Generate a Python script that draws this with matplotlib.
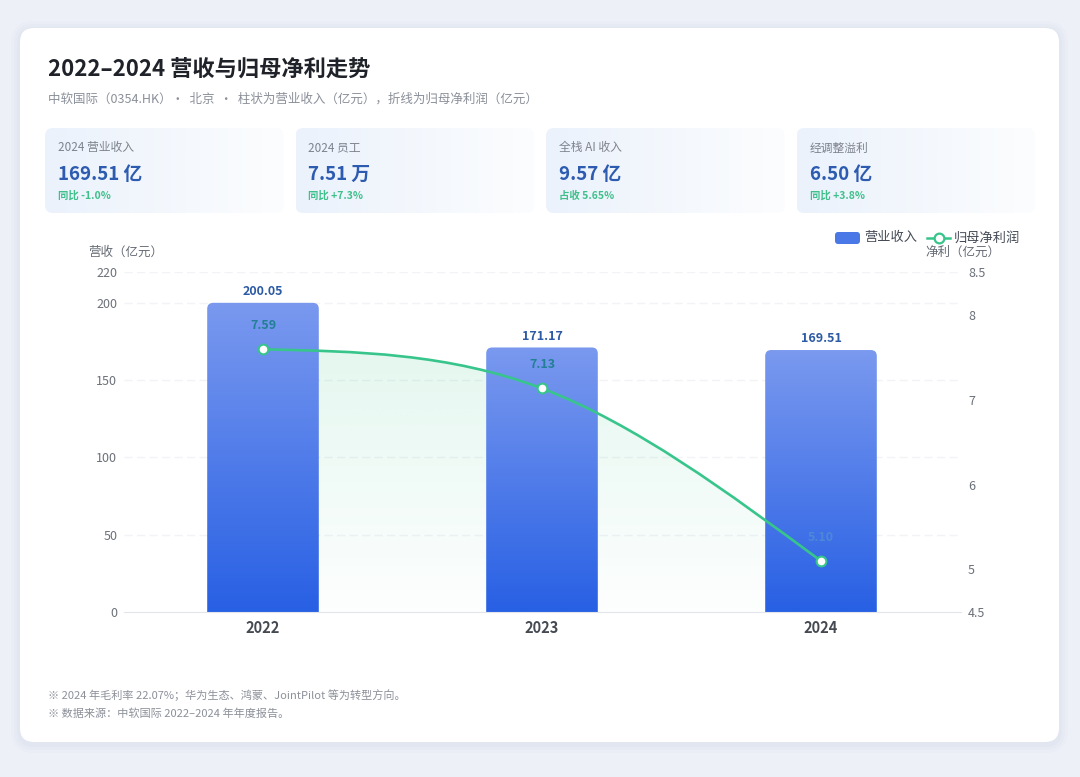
import numpy as np
import matplotlib
matplotlib.use("Agg")
import matplotlib.pyplot as plt
from matplotlib.patches import FancyBboxPatch, PathPatch
from matplotlib.path import Path
from matplotlib.colors import to_rgb
from matplotlib.lines import Line2D

plt.rcParams['font.family'] = ['Noto Sans CJK SC', 'DejaVu Sans']

# ---- data ----
years = ['2022', '2023', '2024']
revenue = [200.05, 171.17, 169.51]          # 营业收入（亿元）
net_profit = [7.59, 7.13, 5.10]             # 归母净利润（亿元）

kpi_labels = ['2024 营业收入', '2024 员工', '全栈 AI 收入', '经调整溢利']
kpi_values = ['169.51 亿', '7.51 万', '9.57 亿', '6.50 亿']
kpi_notes = ['同比 -1.0%', '同比 +7.3%', '占收 5.65%', '同比 +3.8%']

left_ticks = [0, 50, 100, 150, 200, 220]
right_ticks = [4.5, 5, 6, 7, 8, 8.5]

title = '2022–2024 营收与归母净利走势'
subtitle = '中软国际（0354.HK）·  北京  ·  柱状为营业收入（亿元），折线为归母净利润（亿元）'
notes = ['※ 2024 年毛利率 22.07%；华为生态、鸿蒙、JointPilot 等为转型方向。',
         '※ 数据来源：中软国际 2022–2024 年年度报告。']

GREEN = '#38c58b'
BAR_TOP = '#7a99ef'
BAR_BOT = '#2860e4'

W, H = 1080, 777
fig = plt.figure(figsize=(W / 100, H / 100), dpi=100)
fig.patch.set_facecolor('#edf0f7')

# background axes in pixel coordinates
bg = fig.add_axes([0, 0, 1, 1])
bg.set_xlim(0, W)
bg.set_ylim(H, 0)
bg.axis('off')
bg.set_zorder(0)

for i, a in enumerate([0.05, 0.04, 0.03]):
    d = 3 + i * 3
    bg.add_patch(FancyBboxPatch((20 - d, 30 - d), 1039 + 2 * d, 714 + 2 * d,
                                boxstyle='round,pad=0,rounding_size=%d' % (14 + d),
                                fc='#9aa6c8', ec='none', alpha=a))
bg.add_patch(FancyBboxPatch((20, 28), 1039, 714, boxstyle='round,pad=0,rounding_size=14',
                            fc='white', ec='none'))

bg.text(48, 70, title, fontsize=16, fontweight='bold', color='#1f2329', va='center')
bg.text(48, 99, subtitle, fontsize=9, color='#8a8f99', va='center')

# KPI cards
card_w, card_gap = 238.5, 12
c0, c1 = np.array(to_rgb('#ebf2fc')), np.array(to_rgb('#fcfdfe'))
grad = np.linspace(0, 1, 256)[None, :, None]
card_img = c0 + (c1 - c0) * grad
for i in range(len(kpi_labels)):
    x0 = 45 + i * (card_w + card_gap)
    card = FancyBboxPatch((x0, 128), card_w, 85, boxstyle='round,pad=0,rounding_size=8',
                          fc='none', ec='none')
    bg.add_patch(card)
    im = bg.imshow(card_img, extent=(x0, x0 + card_w, 213, 128), aspect='auto', zorder=1)
    im.set_clip_path(card)
    bg.text(x0 + 13, 148, kpi_labels[i], fontsize=8.5, color='#7d828c', va='center', zorder=2)
    bg.text(x0 + 13, 174, kpi_values[i], fontsize=13.5, fontweight='bold', color='#2d5bb0',
            va='center', zorder=2)
    bg.text(x0 + 13, 196, kpi_notes[i], fontsize=7.5, fontweight='bold', color='#3fc08a',
            va='center', zorder=2)

# legend
bg.add_patch(FancyBboxPatch((835, 232), 25, 12, boxstyle='round,pad=0,rounding_size=3',
                            fc='#4a78e6', ec='none'))
bg.text(864, 238, '营业收入', fontsize=9.5, color='#444a55', va='center')
bg.add_line(Line2D([927, 950], [238, 238], color=GREEN, lw=1.8))
bg.add_line(Line2D([938.5], [238], marker='o', ms=7, mfc='white', mec=GREEN, mew=1.6))
bg.text(954, 238, '归母净利润', fontsize=9.5, color='#444a55', va='center')

bg.text(88, 252, '营收（亿元）', fontsize=9, color='#666b75', va='center')
bg.text(925, 252, '净利（亿元）', fontsize=9, color='#666b75', va='center')

for k, line in enumerate(notes):
    bg.text(48, 695 + k * 19, line, fontsize=8, color='#8c9099', va='center')

# ---- main chart ----
ax = fig.add_axes([123.5 / W, (H - 612) / H, 837 / W, 340 / H])
ax.set_zorder(1)
ax.patch.set_visible(False)
ax2 = ax.twinx()
ax2.set_zorder(2)
ax2.patch.set_visible(False)

x = np.arange(len(years))
ax.set_xlim(-0.5, len(years) - 0.5)
ax.set_ylim(0, 220)
ax2.set_ylim(4.5, 8.5)
ax.set_yticks(left_ticks)
ax2.set_yticks(right_ticks)
ax2.set_yticklabels([('%g' % t) for t in right_ticks])
ax.set_xticks(x)
ax.set_xticklabels(years, fontsize=10.5, fontweight='bold', color='#454a52')

for a in (ax, ax2):
    for s in a.spines.values():
        s.set_visible(False)
    a.tick_params(length=0, labelsize=9, labelcolor='#6b7079')
ax.spines['bottom'].set_visible(True)
ax.spines['bottom'].set_color('#e2e5eb')
ax.tick_params(axis='y', pad=4.5)
ax.tick_params(axis='x', pad=5.5, labelsize=10.5, labelcolor='#454a52')
ax2.tick_params(axis='y', pad=5.5)
for t in left_ticks[1:]:
    ax.axhline(t, color='#f1f3f6', lw=1, dashes=(6, 3), zorder=0)

# smooth profit curve (natural cubic spline through the points, drawn as bezier)
pts = np.array(net_profit)
n = len(pts)
A = np.zeros((n, n))
b = np.zeros(n)
sec = np.diff(pts)
A[0, 0], A[0, 1], b[0] = 2, 1, 3 * sec[0]
A[-1, -2], A[-1, -1], b[-1] = 1, 2, 3 * sec[-1]
for i in range(1, n - 1):
    A[i, i - 1], A[i, i], A[i, i + 1] = 1, 4, 1
    b[i] = 3 * (sec[i - 1] + sec[i])
m = np.linalg.solve(A, b)
verts = [(x[0], pts[0])]
codes = [Path.MOVETO]
for i in range(n - 1):
    verts += [(x[i] + 1 / 3, pts[i] + m[i] / 3),
              (x[i + 1] - 1 / 3, pts[i + 1] - m[i + 1] / 3),
              (x[i + 1], pts[i + 1])]
    codes += [Path.CURVE4] * 3
curve = Path(verts, codes)
area = Path(verts + [(x[-1], 4.5), (x[0], 4.5), (x[0], pts[0])],
            codes + [Path.LINETO, Path.LINETO, Path.CLOSEPOLY])

g = np.zeros((256, 1, 4))
g[..., :3] = to_rgb(GREEN)
g[:, 0, 3] = np.linspace(0.17, 0.01, 256)
fill = ax.imshow(g, extent=(x[0], x[-1], 0, 220), aspect='auto', zorder=1, origin='upper')
fill.set_clip_path(area, ax2.transData)

# gradient bars with rounded tops
bw = 0.4
px_x = 837 / 3.0
px_y = 340 / 220.0
aspect = px_x / px_y
t0, t1 = np.array(to_rgb(BAR_TOP)), np.array(to_rgb(BAR_BOT))
bar_img = t0 + (t1 - t0) * np.linspace(0, 1, 256)[:, None, None]
for xi, v in zip(x, revenue):
    box = FancyBboxPatch((xi - bw / 2, -20), bw, v + 20,
                         boxstyle='round,pad=0,rounding_size=%f' % (6 / px_x),
                         mutation_aspect=aspect, fc='none', ec='none', zorder=2)
    ax.add_patch(box)
    im = ax.imshow(bar_img, extent=(xi - bw / 2, xi + bw / 2, 0, v), aspect='auto',
                   zorder=2, origin='upper')
    im.set_clip_path(box)
    ax.annotate('%.2f' % v, (xi, v), xytext=(0, 8), textcoords='offset points',
                ha='center', va='center', fontsize=9, fontweight='bold', color='#2c5aa4',
                zorder=5)
ax.set_xlim(-0.5, len(years) - 0.5)
ax.set_ylim(0, 220)

ax2.add_patch(PathPatch(curve, fc='none', ec=GREEN, lw=1.9, zorder=3))
ax2.plot(x, net_profit, 'o', ms=7, mfc='white', mec=GREEN, mew=1.5, zorder=4)
for i, (xi, v) in enumerate(zip(x, net_profit)):
    col = '#237f95' if i < n - 1 else '#4d88d8'
    ax2.annotate('%.2f' % v, (xi, v), xytext=(0, 17), textcoords='offset points',
                 ha='center', va='center', fontsize=9, fontweight='bold', color=col, zorder=5)
ax2.set_ylim(4.5, 8.5)

fig.savefig('out.png', dpi=100, facecolor=fig.get_facecolor())
